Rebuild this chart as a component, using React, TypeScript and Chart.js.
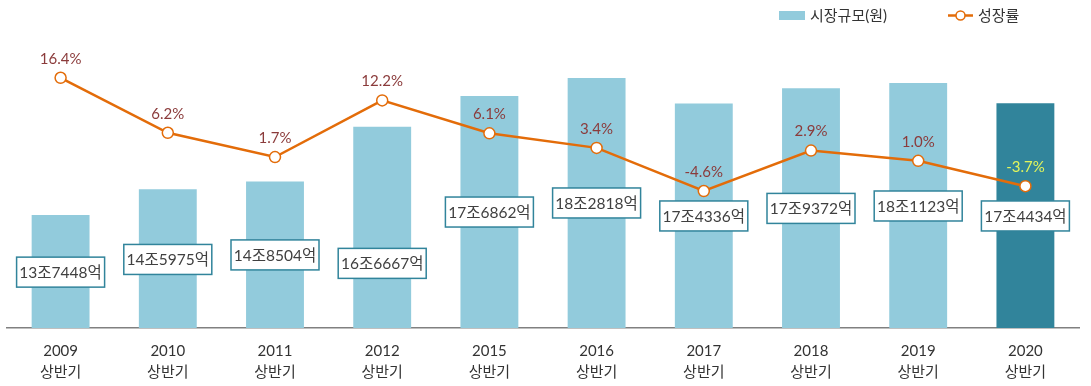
import React, { useEffect, useRef } from 'react';
import { Chart, registerables } from 'chart.js';

Chart.register(...registerables);

const years = ['2009', '2010', '2011', '2012', '2015', '2016', '2017', '2018', '2019', '2020'];
const periodLabel = '상반기';
// market size in 조 원
const marketSize = [13.7448, 14.5975, 14.8504, 16.6667, 17.6862, 18.2818, 17.4336, 17.9372, 18.1123, 17.4434];
const marketText = ['13조7448억', '14조5975억', '14조8504억', '16조6667억', '17조6862억', '18조2818억', '17조4336억', '17조9372억', '18조1123억', '17조4434억'];
// growth rate in %
const growth = [16.4, 6.2, 1.7, 12.2, 6.1, 3.4, -4.6, 2.9, 1.0, -3.7];
const growthText = ['16.4%', '6.2%', '1.7%', '12.2%', '6.1%', '3.4%', '-4.6%', '2.9%', '1.0%', '-3.7%'];

const seriesNames = ['시장규모(원)', '성장률'];

// label-box anchor levels (in market-size axis units)
const boxLevels = [11.85, 12.27, 12.42, 12.14, 13.84, 14.14, 13.71, 13.96, 14.04, 13.71];

const FONT = "Lato, 'Noto Sans CJK KR', sans-serif";
const LIGHT = '#92CBDC';
const DARK = '#31849B';
const ORANGE = '#E36C09';

const overlayPlugin = {
  id: 'overlay',
  afterDatasetsDraw(chart: any) {
    const ctx = chart.ctx;
    const x = chart.scales.x;
    const y = chart.scales.y;
    const lineMeta = chart.getDatasetMeta(1);
    ctx.save();
    // value boxes
    ctx.font = `15.5px ${FONT}`;
    ctx.textAlign = 'center';
    ctx.textBaseline = 'middle';
    marketText.forEach((t, i) => {
      const cx = x.getPixelForValue(i);
      const cy = y.getPixelForValue(boxLevels[i]);
      const w = 88;
      const h = 30;
      ctx.fillStyle = '#ffffff';
      ctx.fillRect(cx - w / 2, cy - h / 2, w, h);
      ctx.strokeStyle = DARK;
      ctx.lineWidth = 1.5;
      ctx.strokeRect(cx - w / 2, cy - h / 2, w, h);
      ctx.fillStyle = '#404040';
      ctx.fillText(t, cx, cy + 1);
    });
    // growth labels
    ctx.font = `15px ${FONT}`;
    growthText.forEach((t, i) => {
      const p = lineMeta.data[i];
      ctx.fillStyle = i === growthText.length - 1 ? '#E2F55C' : '#8B3B3B';
      ctx.fillText(t, p.x, p.y - 19);
    });
    ctx.restore();
  },
  afterDraw(chart: any) {
    const ctx = chart.ctx;
    ctx.save();
    ctx.font = `15px ${FONT}`;
    ctx.textBaseline = 'middle';
    ctx.textAlign = 'left';
    // bar legend
    ctx.fillStyle = LIGHT;
    ctx.fillRect(779, 11, 26, 9);
    ctx.fillStyle = '#333333';
    ctx.fillText(seriesNames[0], 810, 16);
    // line legend
    ctx.strokeStyle = ORANGE;
    ctx.lineWidth = 2.5;
    ctx.beginPath();
    ctx.moveTo(948, 15.5);
    ctx.lineTo(973, 15.5);
    ctx.stroke();
    ctx.beginPath();
    ctx.arc(960.5, 15.5, 4.5, 0, Math.PI * 2);
    ctx.fillStyle = '#ffffff';
    ctx.fill();
    ctx.lineWidth = 1.5;
    ctx.stroke();
    ctx.fillStyle = '#333333';
    ctx.fillText(seriesNames[1], 978, 16);
    ctx.restore();
  },
};

export default function App() {
  const ref = useRef<HTMLCanvasElement>(null);
  useEffect(() => {
    if (!ref.current) return;
    const chart = new Chart(ref.current, {
      type: 'bar',
      data: {
        labels: years.map((yr) => [yr, periodLabel]),
        datasets: [
          {
            type: 'bar',
            label: seriesNames[0],
            data: marketSize,
            backgroundColor: marketSize.map((_, i) => (i === marketSize.length - 1 ? DARK : LIGHT)),
            borderWidth: 0,
            barPercentage: 0.54,
            categoryPercentage: 1,
            yAxisID: 'y',
            order: 1,
          },
          {
            type: 'line',
            label: seriesNames[1],
            data: growth,
            borderColor: ORANGE,
            borderWidth: 2.5,
            pointRadius: 5.5,
            pointBackgroundColor: '#ffffff',
            pointBorderColor: ORANGE,
            pointBorderWidth: 1.5,
            tension: 0,
            yAxisID: 'y2',
            order: 0,
          },
        ],
      },
      options: {
        animation: false,
        responsive: false,
        maintainAspectRatio: false,
        layout: { padding: { left: 4, right: 12, top: 26, bottom: 2 } },
        plugins: { legend: { display: false }, tooltip: { enabled: false } },
        scales: {
          x: {
            grid: { display: false, drawTicks: false },
            border: { display: true, color: '#808080', width: 1.5 },
            ticks: {
              color: '#333333',
              font: { family: FONT, size: 15, lineHeight: 1.45 },
              padding: 12,
              maxRotation: 0,
              autoSkip: false,
            },
            afterFit: (s: any) => {
              s.height = 56;
            },
          },
          y: { display: false, min: 10, max: 20 },
          y2: { display: false, min: -30, max: 26 },
        },
      },
      plugins: [overlayPlugin],
    });
    return () => chart.destroy();
  }, []);
  return (
    <div style={{ position: 'fixed', left: 0, top: 0, width: 1091, height: 386, background: '#fff' }}>
      <canvas ref={ref} width={1091} height={386} style={{ width: 1091, height: 386 }} />
    </div>
  );
}
